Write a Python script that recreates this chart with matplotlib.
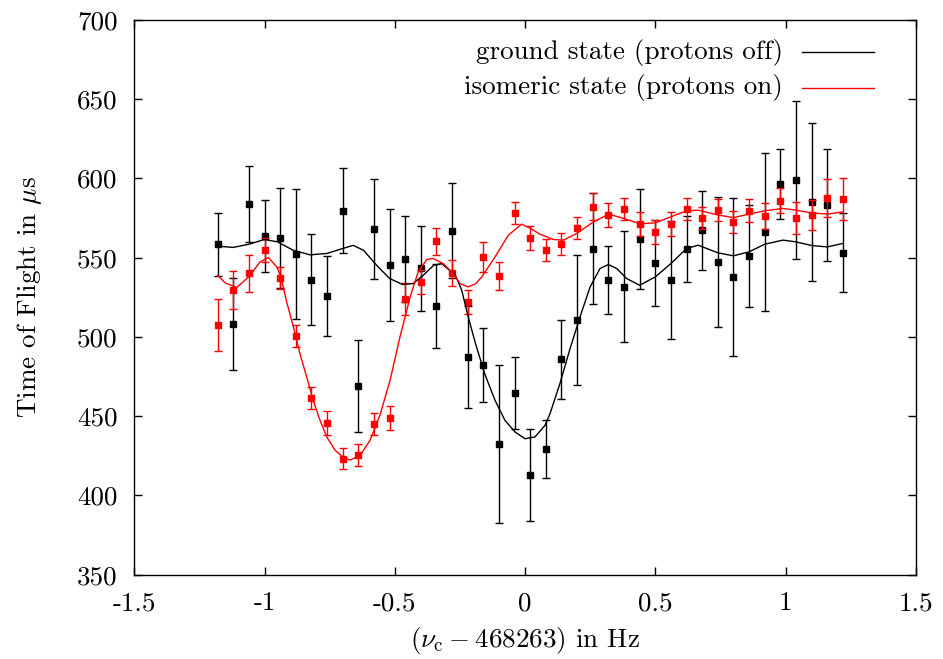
import numpy as np
import matplotlib
matplotlib.use("Agg")
import matplotlib.pyplot as plt
from matplotlib.ticker import FuncFormatter

plt.rcParams['font.family'] = ['cmr10', 'DejaVu Serif']
plt.rcParams['mathtext.fontset'] = 'cm'
plt.rcParams['axes.unicode_minus'] = False
plt.rcParams['axes.formatter.use_mathtext'] = True

# Messpunkte (Frequenzverstimmung in Hz)
freq = [-1.18, -1.12, -1.06, -1.00, -0.94, -0.88, -0.82, -0.76, -0.70, -0.64,
        -0.58, -0.52, -0.46, -0.40, -0.34, -0.28, -0.22, -0.16, -0.10, -0.04,
        0.02, 0.08, 0.14, 0.20, 0.26, 0.32, 0.38, 0.44, 0.50, 0.56,
        0.62, 0.68, 0.74, 0.80, 0.86, 0.92, 0.98, 1.04, 1.10, 1.16, 1.22]

# Grundzustand (Protonen aus)
tof_ground = [558.5, 508.2, 584.0, 563.8, 562.5, 552.4, 536.0, 525.9, 579.6, 469.1,
              568.2, 545.3, 549.3, 543.2, 519.6, 566.9, 487.4, 482.3, 432.5, 464.7,
              412.9, 429.4, 485.9, 510.7, 555.6, 536.0, 531.6, 561.7, 546.7, 536.0,
              555.6, 567.4, 547.4, 537.9, 551.2, 566.1, 596.6, 599.1, 585.0, 583.4, 553.1]
err_ground = [20, 29, 24, 22.5, 31.6, 41, 28.7, 25, 26.7, 29,
              31.6, 35.5, 27, 26.7, 26.6, 30, 32, 23.5, 50, 22.5,
              29, 18.5, 25, 41, 35, 21.3, 35, 31.6, 27, 37,
              21, 25, 41, 50, 32, 50, 22.3, 50, 50, 35.5, 25]

# Isomerzustand (Protonen an)
tof_iso = [507.6, 529.7, 540.2, 554.7, 537.3, 500.6, 461.5, 445.7, 423.2, 425.5,
           445.1, 448.9, 524.0, 534.7, 560.4, 540.4, 522.1, 550.5, 538.5, 578.3,
           562.5, 555.0, 558.7, 568.8, 582.1, 577.0, 580.8, 571.4, 566.3, 571.2,
           580.6, 575.1, 580.0, 572.6, 579.6, 576.2, 585.8, 574.9, 577.0, 587.8, 587.1]
err_iso = [16.5, 12, 11.6, 7.5, 7, 6.7, 6.7, 7.3, 6.7, 6.7,
           7, 7.5, 10, 7.7, 8.5, 8, 7.4, 9.5, 9, 7,
           7.4, 6.8, 7, 7.2, 8.5, 7.7, 6.7, 7.5, 7.5, 7.4,
           7, 6.8, 7, 7, 7.2, 8.3, 7.9, 10, 9.5, 12, 13]

# Fitkurven
fit_ground_x = [-1.18, -1.12, -1.06, -1.00, -0.95, -0.89, -0.825, -0.76, -0.70, -0.66,
                -0.62, -0.57, -0.52, -0.47, -0.43, -0.39, -0.35, -0.32, -0.29, -0.27,
                -0.243, -0.218, -0.19, -0.155, -0.115, -0.077, -0.038, 0.0, 0.038, 0.077,
                0.096, 0.134, 0.173, 0.211, 0.25, 0.288, 0.32, 0.352, 0.39, 0.44,
                0.50, 0.56, 0.62, 0.665, 0.74, 0.80, 0.86, 0.92, 0.99, 1.04,
                1.10, 1.16, 1.22]
fit_ground_y = [557.3, 556.5, 558.5, 561.5, 560.0, 554.7, 551.8, 552.7, 555.8, 557.8,
                554.7, 545.3, 536.9, 533.1, 533.7, 539.0, 545.3, 546.3, 542.1, 540.0,
                529.5, 512.6, 495.8, 476.9, 460.0, 447.4, 440.0, 435.8, 436.9, 444.3,
                451.6, 470.6, 492.7, 512.6, 531.6, 543.2, 545.7, 543.2, 536.9, 532.6,
                537.9, 546.3, 555.8, 557.9, 553.1, 551.2, 553.7, 558.5, 561.1, 560.0,
                557.7, 556.8, 559.0]

fit_iso_x = [-1.18, -1.15, -1.107, -1.06, -1.017, -0.985, -0.953, -0.937, -0.915, -0.889,
             -0.864, -0.838, -0.813, -0.787, -0.761, -0.729, -0.697, -0.67, -0.633, -0.595,
             -0.557, -0.518, -0.48, -0.441, -0.41, -0.377, -0.352, -0.314, -0.275, -0.25,
             -0.218, -0.19, -0.166, -0.115, -0.064, -0.013, 0.022, 0.058, 0.109, 0.147,
             0.198, 0.262, 0.321, 0.381, 0.441, 0.50, 0.56, 0.62, 0.665, 0.74,
             0.80, 0.86, 0.92, 0.99, 1.04, 1.10, 1.16, 1.22]
fit_iso_y = [538.8, 534.0, 531.2, 538.0, 547.4, 550.1, 544.2, 537.9, 522.1, 506.3,
             489.5, 474.7, 460.0, 447.4, 436.9, 428.5, 423.9, 422.4, 425.3, 434.8,
             450.6, 472.7, 500.0, 525.3, 541.1, 548.9, 549.5, 546.3, 540.0, 533.7,
             531.6, 533.5, 537.9, 550.5, 564.2, 571.2, 568.4, 564.8, 561.5, 561.1,
             565.3, 572.5, 577.5, 574.7, 571.4, 572.0, 575.8, 579.6, 580.0, 577.0,
             575.3, 577.5, 579.6, 581.1, 580.0, 578.3, 577.5, 578.9]

labels = ['ground state (protons off)', 'isomeric state (protons on)']

fs = 19.5

fig = plt.figure(figsize=(9.43, 6.59), dpi=100)
ax = fig.add_axes([0.1424, 0.1279, 0.8287, 0.8418])

ax.errorbar(freq, tof_ground, yerr=err_ground, fmt='s', color='black', ms=4.2,
            elinewidth=1.0, capsize=3.2, capthick=1.0, zorder=2)
ax.errorbar(freq, tof_iso, yerr=err_iso, fmt='s', color='red', ms=4.2,
            elinewidth=1.0, capsize=3.2, capthick=1.0, zorder=3)
ax.plot(fit_ground_x, fit_ground_y, color='black', lw=1.0, zorder=4)
ax.plot(fit_iso_x, fit_iso_y, color='red', lw=1.0, zorder=5)

# Legende im gnuplot-Stil: Text rechtsbuendig, Linie rechts daneben
for k, (lab, col) in enumerate(zip(labels, ['black', 'red'])):
    yk = 0.9416 - k * 0.0638
    ax.text(0.830, yk, lab, transform=ax.transAxes, ha='right', va='center', fontsize=fs)
    ax.plot([0.854, 0.946], [yk, yk], transform=ax.transAxes, color=col, lw=1.0)

ax.set_xlim(-1.5, 1.5)
ax.set_ylim(350, 700)
ax.set_xticks(np.arange(-1.5, 1.51, 0.5))
ax.set_yticks(np.arange(350, 701, 50))
ax.xaxis.set_major_formatter(FuncFormatter(lambda v, p: '%g' % v))
ax.yaxis.set_major_formatter(FuncFormatter(lambda v, p: '%g' % v))
ax.tick_params(direction='in', length=6, width=1.0, top=True, right=True,
               labelsize=fs, pad=12)
for sp in ax.spines.values():
    sp.set_linewidth(1.0)

ax.set_xlabel(r'$(\nu_\mathrm{c} - 468263)$ in Hz', fontsize=fs, labelpad=7)
ax.set_ylabel(r'Time of Flight in $\mu$s', fontsize=fs, labelpad=24)

fig.savefig('out.png', dpi=100)
